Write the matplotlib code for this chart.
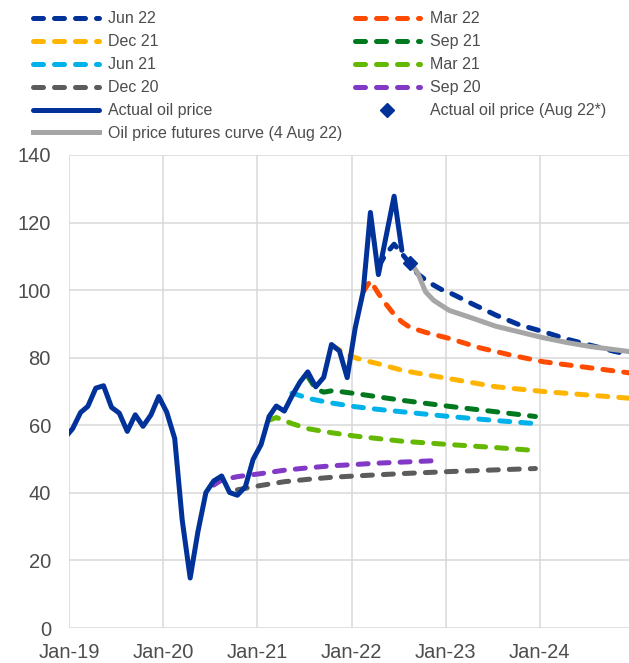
import matplotlib.pyplot as plt
import matplotlib.dates as mdates
import pandas as pd

plt.rcParams['font.family'] = ['Liberation Sans', 'DejaVu Sans']

# monthly actual Brent price, Dec-18 .. Jul-22 (USD per barrel)
actual_start = '2018-12'
actual_price = [56.2,
                59.0, 63.8, 65.6, 71.0, 71.7, 65.3, 63.6, 58.2, 63.1, 59.7, 63.1, 68.5,
                63.9, 56.1, 32.0, 14.8, 28.5, 40.1, 43.5, 45.0, 40.1, 39.3, 41.8, 49.9,
                54.3, 62.6, 65.7, 64.2, 68.7, 72.8, 75.8, 71.4, 74.2, 83.9, 82.0, 74.1,
                88.8, 99.6, 123.0, 104.6, 116.0, 127.8, 111.8]

# oil price assumptions from past projection rounds
sep20_months = ['2020-07', '2020-08', '2020-10', '2021-01', '2021-04', '2021-07',
                '2021-10', '2022-01', '2022-04', '2022-07', '2022-11']
sep20_values = [42.3, 43.8, 44.8, 45.7, 46.7, 47.4, 48.0, 48.4, 48.8, 49.1, 49.5]

dec20_months = ['2020-10', '2021-01', '2021-04', '2021-07', '2021-10', '2022-01',
                '2022-07', '2023-01', '2023-07', '2023-12']
dec20_values = [40.9, 42.2, 43.3, 44.0, 44.6, 45.0, 45.7, 46.3, 46.8, 47.2]

mar21_months = ['2021-02', '2021-03', '2021-04', '2021-05', '2021-07', '2021-10',
                '2022-01', '2022-07', '2023-01', '2023-07', '2023-11']
mar21_values = [61.5, 62.3, 61.4, 60.5, 59.0, 57.8, 56.8, 55.3, 54.3, 53.4, 52.7]

jun21_months = ['2021-05', '2021-06', '2021-07', '2021-08', '2021-10', '2022-01',
                '2022-04', '2022-07', '2023-01', '2023-07', '2023-12']
jun21_values = [69.5, 68.8, 68.0, 67.5, 66.6, 65.5, 64.7, 64.0, 62.6, 61.4, 60.5]

sep21_months = ['2021-07', '2021-08', '2021-09', '2021-10', '2021-11', '2022-01',
                '2022-04', '2022-07', '2022-10', '2023-01', '2023-07', '2023-12']
sep21_values = [74.5, 70.8, 69.8, 70.2, 70.0, 69.4, 68.4, 67.4, 66.5, 65.6, 64.0, 62.6]

dec21_months = ['2021-10', '2021-11', '2021-12', '2022-01', '2022-02', '2022-04',
                '2022-07', '2022-10', '2023-01', '2023-07', '2023-10', '2024-01',
                '2024-07', '2024-12']
dec21_values = [83.7, 82.3, 81.0, 80.0, 79.3, 78.2, 76.3, 75.0, 73.8, 71.4, 70.7,
                70.0, 68.9, 68.0]

mar22_months = ['2022-02', '2022-03', '2022-04', '2022-05', '2022-06', '2022-07',
                '2022-08', '2022-10', '2023-01', '2023-05', '2023-09', '2024-01',
                '2024-07', '2024-12']
mar22_values = [99.5, 102.8, 99.0, 95.8, 92.8, 90.6, 89.0, 87.5, 85.7, 82.9, 80.7,
                78.8, 77.0, 75.5]

jun22_months = ['2022-04', '2022-05', '2022-06', '2022-07', '2022-08', '2022-09',
                '2022-10', '2022-11', '2022-12', '2023-01', '2023-04', '2023-07',
                '2023-10', '2024-01', '2024-04', '2024-07', '2024-10', '2024-11']
jun22_values = [107.0, 110.8, 113.6, 110.8, 107.9, 104.8, 103.0, 101.5, 100.2, 99.3,
                95.9, 92.6, 89.7, 87.7, 85.5, 83.7, 81.9, 81.4]

# futures curve, 4 Aug 22
futures_months = ['2022-08', '2022-09', '2022-10', '2022-11', '2022-12', '2023-01',
                  '2023-04', '2023-07', '2023-10', '2024-01', '2024-04', '2024-07',
                  '2024-10', '2024-12']
futures_values = [108.5, 105.0, 99.5, 97.0, 95.5, 94.0, 91.7, 89.3, 87.6, 85.9,
                  84.5, 83.3, 82.4, 81.8]

aug22_month = '2022-08'
aug22_price = 108.0

colors = {
    'Jun 22': '#003299', 'Mar 22': '#FF4B00', 'Dec 21': '#FFB400', 'Sep 21': '#00781E',
    'Jun 21': '#00B1EA', 'Mar 21': '#65B800', 'Dec 20': '#5C5C5C', 'Sep 20': '#8139C6',
}
text_col = '#4D4D4D'
grid_col = '#D9D9D9'
lw = 3.6


def mid(months):
    return pd.to_datetime([m + '-15' for m in months])


fig = plt.figure(figsize=(6.29, 6.63), dpi=100)
ax = fig.add_axes([69 / 629, 35 / 663, 1 - 69 / 629, 473 / 663])

proj = [
    ('Sep 20', sep20_months, sep20_values),
    ('Dec 20', dec20_months, dec20_values),
    ('Mar 21', mar21_months, mar21_values),
    ('Jun 21', jun21_months, jun21_values),
    ('Sep 21', sep21_months, sep21_values),
    ('Dec 21', dec21_months, dec21_values),
    ('Mar 22', mar22_months, mar22_values),
    ('Jun 22', jun22_months, jun22_values),
]
handles = {}
for name, months, values in proj:
    handles[name], = ax.plot(mid(months), values, color=colors[name], lw=lw,
                             dashes=(2.0, 2.2), dash_capstyle='round', label=name)

handles['fut'], = ax.plot(mid(futures_months), futures_values, color='#A6A6A6', lw=lw,
                          solid_joinstyle='round', label='Oil price futures curve (4 Aug 22)')

actual_x = pd.date_range(actual_start + '-01', periods=len(actual_price), freq='MS') + pd.Timedelta(days=14)
handles['act'], = ax.plot(actual_x, actual_price, color='#003299', lw=lw,
                          solid_joinstyle='round', solid_capstyle='round', label='Actual oil price')
handles['aug'], = ax.plot(mid([aug22_month]), [aug22_price], ls='none', marker='D', ms=7,
                          color='#003299', label='Actual oil price (Aug 22*)')

ax.set_ylim(0, 140)
ax.set_xlim(pd.Timestamp('2019-01-01'), pd.Timestamp('2024-12-12'))
ax.set_yticks(range(0, 141, 20))
ax.xaxis.set_major_locator(mdates.YearLocator())
ax.xaxis.set_major_formatter(mdates.DateFormatter('%b-%y'))
ax.grid(True, color=grid_col, lw=1.1)
ax.set_axisbelow(True)
for s in ax.spines.values():
    s.set_visible(False)
ax.tick_params(length=0, labelsize=14.5, colors=text_col)
ax.tick_params(axis='y', pad=13)
ax.tick_params(axis='x', pad=11)

order = ['Jun 22', 'Dec 21', 'Jun 21', 'Dec 20', 'act', 'fut',
         'Mar 22', 'Sep 21', 'Mar 21', 'Sep 20', 'aug']
fig.legend([handles[k] for k in order], [handles[k].get_label() for k in order],
           loc='upper left', bbox_to_anchor=(0.048, 0.988), ncol=2, frameon=False,
           fontsize=11.5, labelcolor=text_col, handlelength=4.1, handletextpad=0.6,
           columnspacing=0.75, labelspacing=0.5, borderpad=0.2, borderaxespad=0)

fig.savefig('out.png', dpi=100)
